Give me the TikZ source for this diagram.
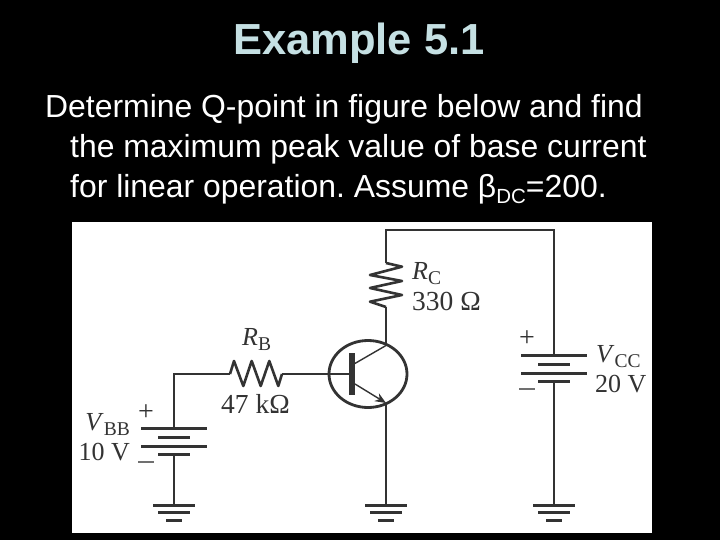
\documentclass[tikz,border=0pt]{standalone}
\usepackage{fontspec}
\setmainfont{Liberation Sans}
\newfontfamily\labelfont{Liberation Serif}
\usetikzlibrary{arrows.meta}
\definecolor{titleblue}{HTML}{C5E0E3}
\definecolor{ink}{HTML}{333333}
\newcommand{\subtxt}[1]{\raisebox{-0.22em}{\fontsize{19.5}{22}\selectfont #1}}
\tikzset{
  wire/.style={draw=ink,line width=1.8pt},
  bar/.style={draw=ink,line width=3pt},
  zigzag/.style={draw=ink,line width=2.6pt,line join=round},
  lbl/.style={inner sep=0pt,text=ink,font=\labelfont\fontsize{26}{28}\selectfont},
  lblb/.style={inner sep=0pt,text=ink,font=\labelfont\fontsize{27.5}{29}\selectfont},
  signs/.style={inner sep=0pt,text=ink,font=\labelfont\fontsize{28}{30}\selectfont},
  minus/.style={inner sep=0pt,text=ink!70},
  bodytxt/.style={inner sep=0pt,anchor=base west,text=white,font=\frenchspacing\fontsize{31.9}{34}\selectfont},
  gnd/.pic={
    \draw[bar] (-21,0) -- (21,0);
    \draw[bar] (-16,7.5) -- (16,7.5);
    \draw[bar] (-8,15) -- (8,15);
  },
  batt/.pic={
    \draw[bar] (-33,0) -- (33,0);
    \draw[bar] (-16,9) -- (16,9);
    \draw[bar] (-33,18) -- (33,18);
    \draw[bar] (-16,26.5) -- (16,26.5);
  }
}
\begin{document}
\begin{tikzpicture}[x=1pt,y=-1pt]
\useasboundingbox (0,0) rectangle (720,540);
\fill[black] (0,0) rectangle (720,540);
\fill[white] (72,222) rectangle (652,532.5);
\node[inner sep=0pt,text=titleblue,font=\bfseries\fontsize{43.5}{48}\selectfont] (title) at (359,43) {Example 5.1};
\node[bodytxt] (l1) at (45,118) {Determine Q-point in figure below and find};
\node[bodytxt] (l2) at (70,158) {the maximum peak value of base current};
\node[bodytxt] (l3) at (70,197) {for linear operation. Assume β\raisebox{-0.2em}{\fontsize{20.5}{22}\selectfont DC}=200.};

% coordinates
\coordinate (cornerB) at (174,374);
\coordinate (rbL) at (230,374);
\coordinate (rbR) at (282,374);
\coordinate (baseL) at (329,374);
\coordinate (baseB) at (350,374);
\coordinate (topL) at (386,230);
\coordinate (topR) at (554,230);
\coordinate (rcT) at (386,263);
\coordinate (rcB) at (386,307);
\coordinate (cTop) at (386,345.5);
\coordinate (eBot) at (386,403);
\coordinate (cJ) at (354,364);
\coordinate (eJ) at (355,384);
\coordinate (vbbT) at (174,428);
\coordinate (vbbB) at (174,454.5);
\coordinate (gndA) at (174,505);
\coordinate (gndB) at (386,505);
\coordinate (gndC) at (554,505);
\coordinate (vccT) at (554,355);
\coordinate (vccB) at (554,381.5);

% wires
\draw[wire] (vbbT) -- (cornerB) -- (rbL);
\draw[wire] (rbR) -- (baseL) -- (baseB);
\draw[wire] (vbbB) -- (gndA);
\draw[wire] (rcT) -- (topL) -- (topR) -- (vccT);
\draw[wire] (vccB) -- (gndC);
\draw[wire] (rcB) -- (cTop);
\draw[wire] (eBot) -- (gndB);

% resistors
\draw[zigzag] (rbL) -- (234,361) -- (243.3,386) -- (251.7,361) -- (260.7,386) -- (269.3,361) -- (278.3,386) -- (rbR);
\draw[zigzag] (rcT) -- (402,266.7) -- (370,275) -- (402,281) -- (370,288) -- (402,295) -- (370,301.7) -- (rcB);

% transistor
\draw[draw=ink,line width=2.8pt] (368,374) ellipse [x radius=39,y radius=33.5];
\draw[draw=ink,line width=5.5pt] (352,353) -- (352,395);
\draw[draw=ink,line width=1.4pt] (cJ) -- (cTop);
\draw[draw=ink,line width=1.4pt,-{Stealth[length=11pt,width=9pt]}] (eJ) -- (eBot);

% batteries
\pic at (vbbT) {batt};
\pic at (vccT) {batt};
% grounds
\pic at (gndA) {gnd};
\pic at (gndB) {gnd};
\pic at (gndC) {gnd};

% labels
\node[lbl,anchor=base west] (rbn) at (242,345) {\textit{R}\subtxt{B}};
\node[lblb,anchor=base west] (rbv) at (221,413) {47 kΩ};
\node[lbl,anchor=base west] (rcn) at (412,279) {\textit{R}\subtxt{C}};
\node[lblb,anchor=base west] (rcv) at (412,310) {330 Ω};
\node[lbl,anchor=base east] (vbbn) at (130,430) {\textit{V}\subtxt{BB}};
\node[lbl,anchor=base east] (vbbv) at (130,460) {10 V};
\node[lbl,anchor=base west] (vccn) at (596,362) {\textit{V}\subtxt{CC}};
\node[lbl,anchor=base west] (vccv) at (595,392) {20 V};
\node[signs] (pa) at (146,413) {+};
\node[minus] (ma) at (146,462) {\rule{16pt}{1.2pt}};
\node[signs] (pb) at (527,339) {+};
\node[minus] (mb) at (527,389) {\rule{16pt}{1.2pt}};
\end{tikzpicture}
\end{document}
